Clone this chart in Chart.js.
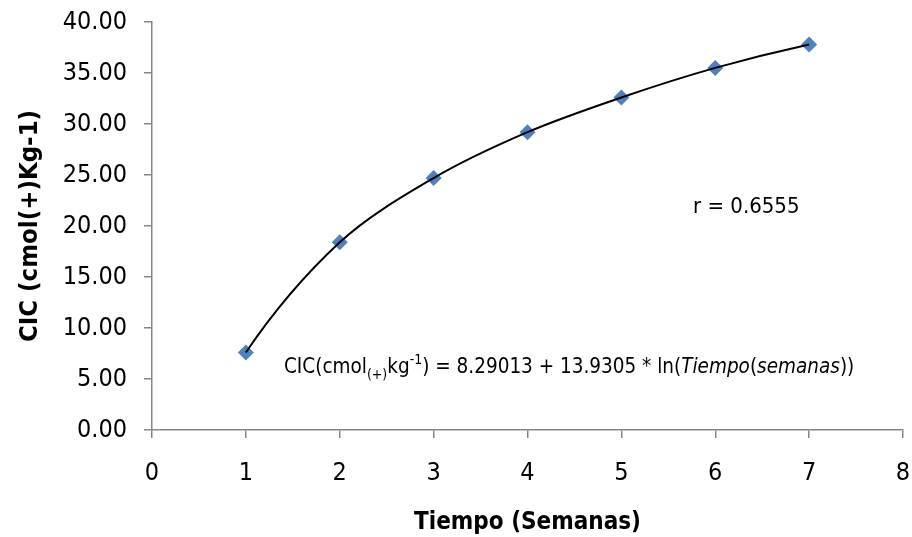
<!DOCTYPE html>
<html>
<head>
<meta charset="utf-8">
<script src="https://cdn.jsdelivr.net/npm/chart.js@4/dist/chart.umd.min.js"></script>
<style>
  html, body { margin: 0; padding: 0; background: #ffffff; }
  #wrap { width: 912px; height: 537px; }
</style>
</head>
<body>
<div id="wrap"><canvas id="chart" width="912" height="537"></canvas></div>
<script>
// Weeks of incubation and measured cation exchange capacity
const weeks = [1, 2, 3, 4, 5, 6, 7];
const cic = [7.6, 18.4, 24.7, 29.2, 32.6, 35.5, 37.8];
const xTicks = [0, 1, 2, 3, 4, 5, 6, 7, 8];
const yTicks = [0, 5, 10, 15, 20, 25, 30, 35, 40];
const rLabel = 'r = 0.6555';

const FONT = '"DejaVu Sans Condensed", "DejaVu Sans", sans-serif';
const AXIS_GREY = '#868686';
const points = weeks.map((w, i) => ({ x: w, y: cic[i] }));

// Makes each end segment of the smooth curve a parabola: the end point's
// outer handle is set so the segment bends without an inflection.
const naturalEnds = {
  id: 'naturalEnds',
  beforeDatasetsDraw(chart) {
    const meta = chart.getDatasetMeta(0);
    const line = meta.dataset;
    if (!line) return;
    line.updateControlPoints(chart.chartArea);
    const pts = meta.data;
    const n = pts.length;
    if (n < 3) return;
    const a = pts[0], b = pts[1];
    a.cp2x = a.x + (2 / 3) * (b.x - a.x) - (b.x - b.cp1x);
    a.cp2y = a.y + (2 / 3) * (b.y - a.y) - (b.y - b.cp1y);
    const z = pts[n - 1], y = pts[n - 2];
    z.cp1x = z.x - (2 / 3) * (z.x - y.x) + (y.cp2x - y.x);
    z.cp1y = z.y - (2 / 3) * (z.y - y.y) + (y.cp2y - y.y);
  }
};

// Writes the correlation value and the fitted equation inside the plot
const annotations = {
  id: 'annotations',
  afterDatasetsDraw(chart) {
    const ctx = chart.ctx;
    const xs = chart.scales.x, ys = chart.scales.y;
    ctx.save();
    ctx.fillStyle = '#000000';
    ctx.textBaseline = 'alphabetic';
    ctx.textAlign = 'left';

    ctx.font = '22px ' + FONT;
    ctx.fillText(rLabel, xs.getPixelForValue(5.763), ys.getPixelForValue(21.27));

    const size = 20.5, small = 14;
    const parts = [
      { t: 'CIC(cmol', f: size + 'px ' + FONT, dy: 0 },
      { t: '(+)', f: small + 'px ' + FONT, dy: 6 },
      { t: 'kg', f: size + 'px ' + FONT, dy: 0 },
      { t: '-1', f: small + 'px ' + FONT, dy: -9 },
      { t: ') = 8.29013 + 13.9305 * ln(', f: size + 'px ' + FONT, dy: 0 },
      { t: 'Tiempo', f: 'italic ' + size + 'px ' + FONT, dy: 0 },
      { t: '(', f: size + 'px ' + FONT, dy: 0 },
      { t: 'semanas', f: 'italic ' + size + 'px ' + FONT, dy: 0 },
      { t: '))', f: size + 'px ' + FONT, dy: 0 }
    ];
    let x = xs.getPixelForValue(1.406);
    const base = ys.getPixelForValue(5.59);
    parts.forEach(p => {
      ctx.font = p.f;
      ctx.fillText(p.t, x, base + p.dy);
      x += ctx.measureText(p.t).width;
    });
    ctx.restore();
  }
};

new Chart(document.getElementById('chart'), {
  type: 'scatter',
  data: {
    datasets: [
      {
        // smooth curve through the measurements
        type: 'line',
        data: points,
        showLine: true,
        borderColor: '#000000',
        borderWidth: 2,
        tension: 0.33,
        pointRadius: 0,
        fill: false,
        order: 0
      },
      {
        data: points,
        pointStyle: 'rectRot',
        pointRadius: 8,
        pointBackgroundColor: '#4F81BD',
        pointBorderColor: '#4F81BD',
        pointBorderWidth: 0,
        showLine: false,
        order: 1
      }
    ]
  },
  options: {
    responsive: false,
    animation: false,
    layout: { padding: { top: 22, right: 9, left: 0, bottom: 0 } },
    plugins: { legend: { display: false }, tooltip: { enabled: false } },
    scales: {
      x: {
        type: 'linear',
        min: 0, max: 8,
        afterBuildTicks: s => { s.ticks = xTicks.map(v => ({ value: v })); },
        afterFit: s => { s.height = 107; s.paddingLeft = 0; s.paddingRight = 0; },
        border: { display: true, color: AXIS_GREY, width: 1.5 },
        grid: { drawOnChartArea: false, drawTicks: true, tickLength: 8, color: AXIS_GREY, lineWidth: 1.5 },
        ticks: { color: '#000000', font: { family: FONT, size: 25 }, padding: 20, maxRotation: 0 },
        title: {
          display: true,
          text: 'Tiempo (Semanas)',
          color: '#000000',
          font: { family: FONT, size: 24, weight: 'bold' },
          padding: { top: 0, bottom: 0 }
        }
      },
      y: {
        type: 'linear',
        min: 0, max: 40,
        afterBuildTicks: s => { s.ticks = yTicks.map(v => ({ value: v })); },
        afterFit: s => { s.width = 152; s.paddingTop = 0; s.paddingBottom = 0; },
        border: { display: true, color: AXIS_GREY, width: 1.5 },
        grid: { drawOnChartArea: false, drawTicks: true, tickLength: 8, color: AXIS_GREY, lineWidth: 1.5 },
        ticks: {
          color: '#000000',
          font: { family: FONT, size: 25 },
          padding: 17,
          callback: v => Number(v).toFixed(2)
        },
        title: {
          display: true,
          text: 'CIC (cmol(+)Kg-1)',
          color: '#000000',
          font: { family: FONT, size: 25.5, weight: 'bold' },
          padding: { top: 15, bottom: 0 }
        }
      }
    }
  },
  plugins: [naturalEnds, annotations]
});
</script>
</body>
</html>
